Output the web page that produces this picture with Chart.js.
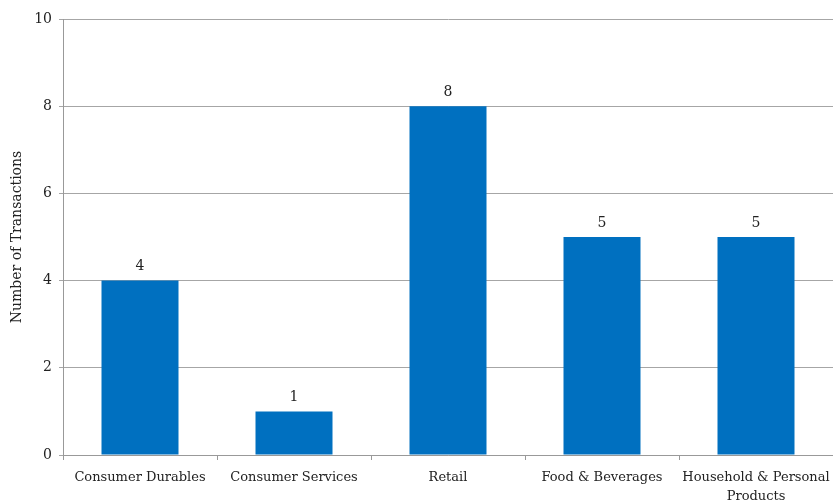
<!DOCTYPE html>
<html>
<head>
<meta charset="utf-8">
<script src="https://cdn.jsdelivr.net/npm/chart.js@4/dist/chart.umd.min.js"></script>
<style>
  html, body { margin: 0; padding: 0; background: #fff; }
  #wrap { width: 833px; height: 502px; }
</style>
</head>
<body>
<div id="wrap"><canvas id="chart"></canvas></div>
<script>
const categories = ['Consumer Durables', 'Consumer Services', 'Retail', 'Food & Beverages', ['Household & Personal', 'Products']];
const transactions = [4, 1, 8, 5, 5];
const yTicks = [0, 2, 4, 6, 8, 10];

const FONT = '"DejaVu Serif", "Liberation Serif", serif';

// draws the value above every bar
const barLabels = {
  id: 'barLabels',
  afterDatasetsDraw(chart) {
    const ctx = chart.ctx;
    const meta = chart.getDatasetMeta(0);
    ctx.save();
    ctx.font = '14px ' + FONT;
    ctx.fillStyle = '#222';
    ctx.textAlign = 'center';
    ctx.textBaseline = 'bottom';
    meta.data.forEach((bar, i) => {
      ctx.fillText(transactions[i], bar.x, bar.y - 7);
    });
    ctx.restore();
  }
};

new Chart(document.getElementById('chart'), {
  type: 'bar',
  data: {
    labels: categories,
    datasets: [{
      data: transactions,
      backgroundColor: '#0070C0',
      barPercentage: 0.5,
      categoryPercentage: 1
    }]
  },
  options: {
    responsive: true,
    maintainAspectRatio: false,
    animation: false,
    layout: { padding: { top: 19, right: 0, left: 0, bottom: 0 } },
    plugins: { legend: { display: false }, tooltip: { enabled: false } },
    scales: {
      x: {
        grid: { drawOnChartArea: false, drawTicks: true, tickLength: 5, color: '#999' },
        border: { color: '#999' },
        ticks: { color: '#222', font: { family: FONT, size: 13, lineHeight: 1.4 }, maxRotation: 0, autoSkip: false, padding: 9 },
        afterFit(scale) {
          scale.height = 47;
          scale.paddingLeft = 0;
          scale.paddingRight = 0;
        }
      },
      y: {
        min: 0,
        max: 10,
        afterBuildTicks(scale) { scale.ticks = yTicks.map(v => ({ value: v })); },
        grid: { color: '#a6a6a6', tickLength: 4 },
        border: { color: '#999' },
        ticks: { color: '#222', font: { family: FONT, size: 14 }, padding: 7 },
        title: { display: true, text: 'Number of Transactions', color: '#222', font: { family: FONT, size: 14 }, padding: { top: 9, bottom: 6 } },
        afterFit(scale) { scale.width = 63; }
      }
    }
  },
  plugins: [barLabels]
});
</script>
</body>
</html>
